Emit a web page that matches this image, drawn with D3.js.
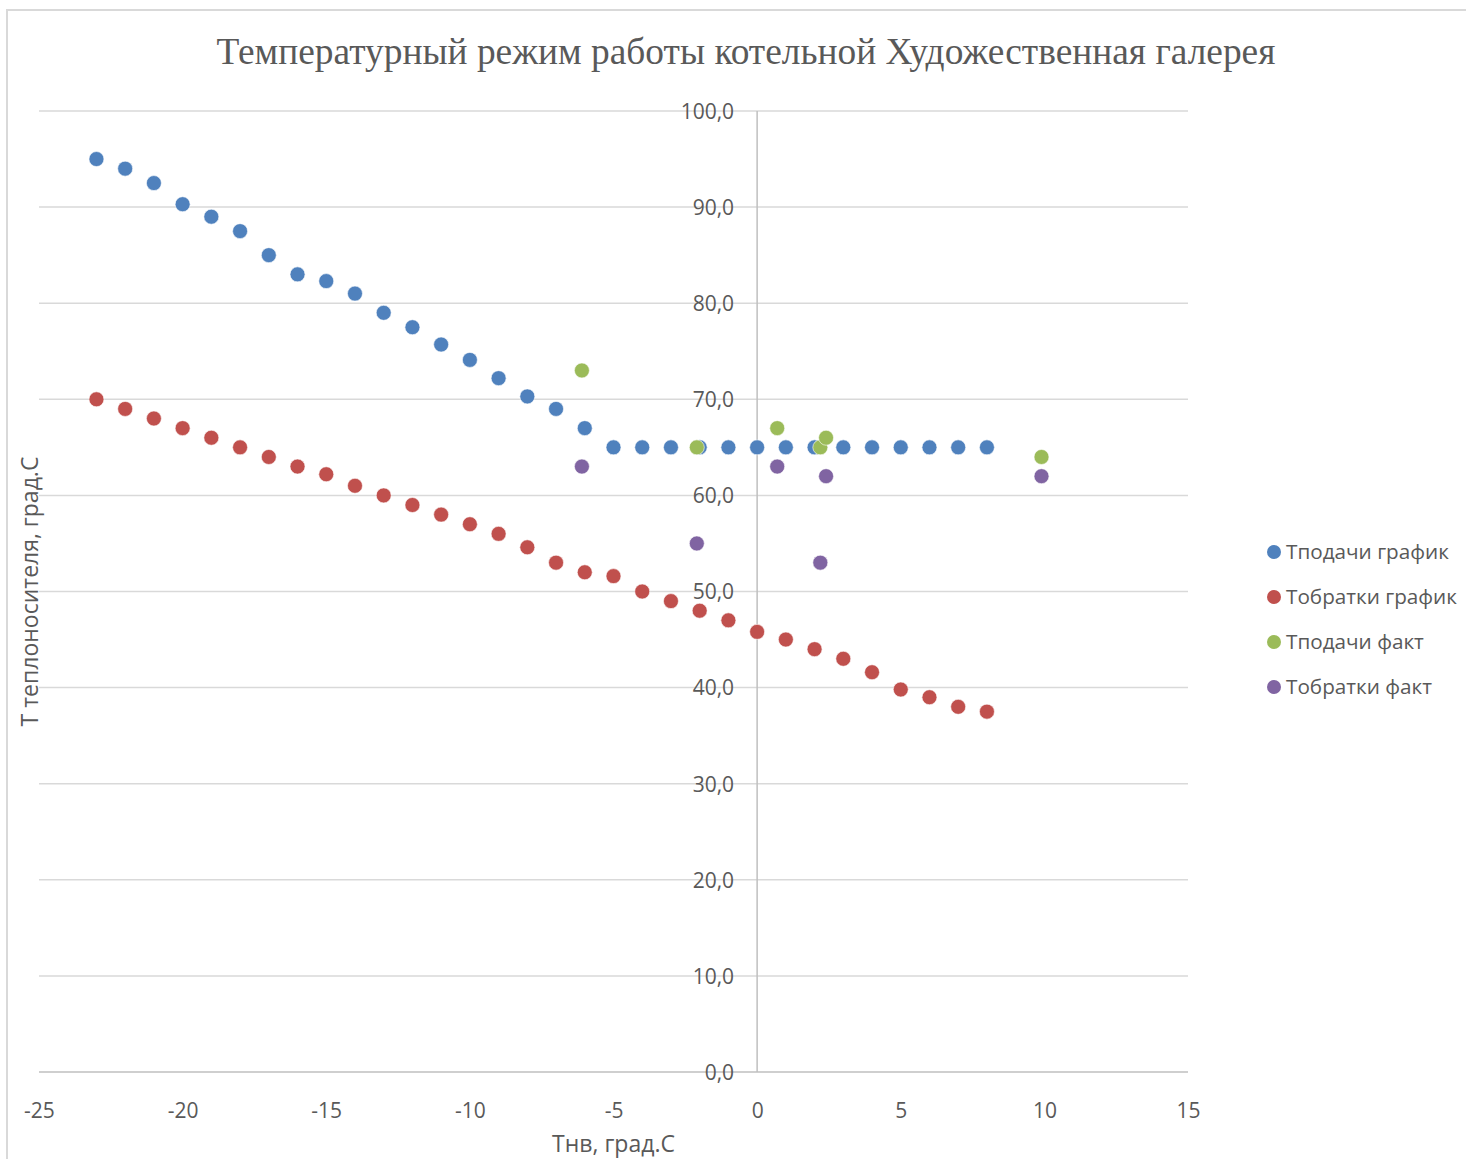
<!DOCTYPE html>
<html><head><meta charset="utf-8">
<script src="https://cdn.jsdelivr.net/npm/d3@7"></script>
<style>body{margin:0;background:#fff}svg{display:block}</style>
</head><body>
<svg id="c" width="1466" height="1159"></svg>
<script>
const title = "Температурный режим работы котельной Художественная галерея";
const xTitle = "Тнв, град.С";
const yTitle = "Т теплоносителя, град.С";
const seriesNames = ["Тподачи график", "Тобратки график", "Тподачи факт", "Тобратки факт"];
const seriesColors = ["#4f81bd", "#c0504d", "#9bbb59", "#8064a2"];

const xGraph = [-23,-22,-21,-20,-19,-18,-17,-16,-15,-14,-13,-12,-11,-10,-9,-8,-7,-6,-5,-4,-3,-2,-1,0,1,2,3,4,5,6,7,8];
const supplyGraph = [95,94,92.5,90.3,89,87.5,85,83,82.3,81,79,77.5,75.7,74.1,72.2,70.3,69,67,65,65,65,65,65,65,65,65,65,65,65,65,65,65];
const returnGraph = [70,69,68,67,66,65,64,63,62.2,61,60,59,58,57,56,54.6,53,52,51.6,50,49,48,47,45.8,45,44,43,41.6,39.8,39,38,37.5];

const xFact = [-6.1,-2.1,0.7,2.2,2.4,9.9];
const supplyFact = [73,65,67,65,66,64];
const returnFact = [63,55,63,53,62,62];

const xTicks = [-25,-20,-15,-10,-5,0,5,10,15];
const yTicks = [0,10,20,30,40,50,60,70,80,90,100];

const svg = d3.select("#c");
const textColor = "#595959";
const font = "'Open Sans', 'Noto Sans', sans-serif";

// chart border
svg.append("path").attr("d","M7,1159 L7,10 L1466,10").attr("fill","none").attr("stroke","#d9d9d9").attr("stroke-width",2);

const x = d3.scaleLinear().domain([-25,15]).range([39,1188]);
const y = d3.scaleLinear().domain([0,100]).range([1072,111]);

// gridlines
svg.append("g").selectAll("line").data(yTicks.filter(d=>d>0)).join("line")
  .attr("x1",x(-25)).attr("x2",x(15)).attr("y1",d=>y(d)).attr("y2",d=>y(d))
  .attr("stroke","#d9d9d9").attr("stroke-width",1.5);

// x axis line at y=0
svg.append("line").attr("x1",x(-25)).attr("x2",x(15)).attr("y1",y(0)).attr("y2",y(0))
  .attr("stroke","#bfbfbf").attr("stroke-width",1.5);
// y axis line at x=0
svg.append("line").attr("x1",x(0)).attr("x2",x(0)).attr("y1",y(100)).attr("y2",y(0))
  .attr("stroke","#bfbfbf").attr("stroke-width",1.5);

// y tick labels
const yAxis = d3.axisLeft(y).tickValues(yTicks).tickSize(0).tickPadding(0)
  .tickFormat(d=>d3.format(".1f")(d).replace(".",","));
const gy = svg.append("g").attr("transform",`translate(${x(0)-23},0)`).call(yAxis);
gy.select(".domain").remove();
gy.selectAll("text").attr("fill",textColor).attr("font-size",21).attr("font-family",font).attr("dy","0.35em");

// x tick labels
const xAxis = d3.axisBottom(x).tickValues(xTicks).tickSize(0).tickPadding(0).tickFormat(d3.format("d"));
const gx = svg.append("g").attr("transform",`translate(0,1111)`).call(xAxis);
gx.select(".domain").remove();
gx.selectAll("text").attr("fill",textColor).attr("font-size",21).attr("font-family",font).attr("dy","0.35em").text(d=>String(d));

// titles
svg.append("text").attr("x",746).attr("y",64).attr("text-anchor","middle")
  .attr("font-family","'Liberation Serif','Times New Roman',serif").attr("font-size",37.4)
  .attr("fill",textColor).text(title);
svg.append("text").attr("x",(x(-25)+x(15))/2).attr("y",1152).attr("text-anchor","middle")
  .attr("font-family",font).attr("font-size",23).attr("fill",textColor).text(xTitle);
svg.append("text").attr("transform",`translate(38,${(y(0)+y(100))/2}) rotate(-90)`).attr("text-anchor","middle")
  .attr("font-family",font).attr("font-size",23).attr("fill",textColor).text(yTitle);

// series
const series = [
  xGraph.map((v,i)=>[v,supplyGraph[i]]),
  xGraph.map((v,i)=>[v,returnGraph[i]]),
  xFact.map((v,i)=>[v,supplyFact[i]]),
  xFact.map((v,i)=>[v,returnFact[i]])
];
series.forEach((pts,si)=>{
  svg.append("g").selectAll("circle").data(pts).join("circle")
    .attr("cx",d=>x(d[0])).attr("cy",d=>y(d[1])).attr("r",7.5)
    .attr("fill",seriesColors[si]).attr("stroke","#fff").attr("stroke-width",0.6);
});

// legend
const lg = svg.append("g");
seriesNames.forEach((n,i)=>{
  const yy = 552 + i*45;
  lg.append("circle").attr("cx",1274).attr("cy",yy).attr("r",7).attr("fill",seriesColors[i]);
  lg.append("text").attr("x",1286).attr("y",yy).attr("dy","0.35em").attr("font-family",font)
    .attr("font-size",20.7).attr("fill",textColor).text(n);
});
</script>
</body></html>
